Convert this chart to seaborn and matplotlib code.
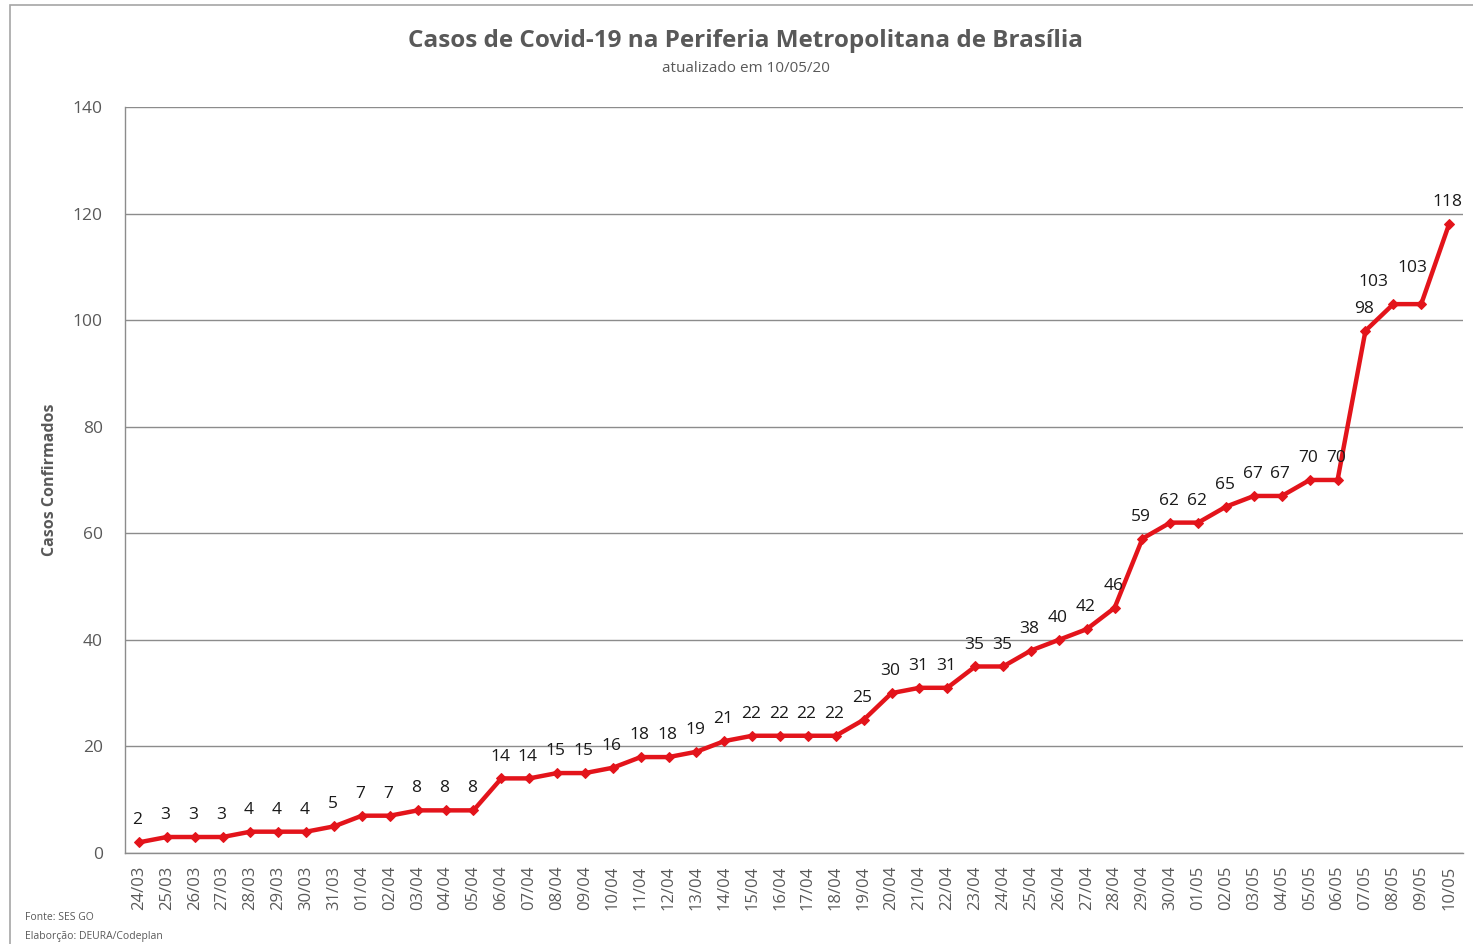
import matplotlib
matplotlib.use("Agg")
import matplotlib.pyplot as plt
import seaborn as sns
import pandas as pd
import numpy as np
from matplotlib.patches import Rectangle

dates = ["24/03", "25/03", "26/03", "27/03", "28/03", "29/03", "30/03", "31/03",
         "01/04", "02/04", "03/04", "04/04", "05/04", "06/04", "07/04", "08/04",
         "09/04", "10/04", "11/04", "12/04", "13/04", "14/04", "15/04", "16/04",
         "17/04", "18/04", "19/04", "20/04", "21/04", "22/04", "23/04", "24/04",
         "25/04", "26/04", "27/04", "28/04", "29/04", "30/04", "01/05", "02/05",
         "03/05", "04/05", "05/05", "06/05", "07/05", "08/05", "09/05", "10/05"]
casos = [2, 3, 3, 3, 4, 4, 4, 5, 7, 7, 8, 8, 8, 14, 14, 15, 15, 16, 18, 18, 19,
         21, 22, 22, 22, 22, 25, 30, 31, 31, 35, 35, 38, 40, 42, 46, 59, 62, 62,
         65, 67, 67, 70, 70, 98, 103, 103, 118]
yticks = [0, 20, 40, 60, 80, 100, 120, 140]

title = "Casos de Covid-19 na Periferia Metropolitana de Brasília"
subtitle = "atualizado em 10/05/20"
ylabel = "Casos Confirmados"

sns.set_theme(style="white")
plt.rcParams["font.family"] = ["Open Sans", "DejaVu Sans"]

grey = "#595959"
linegrey = "#8c8c8c"
red = "#E3141B"

df = pd.DataFrame({"idx": np.arange(len(dates)), "casos": casos})

fig = plt.figure(figsize=(14.73, 9.44), dpi=100)
ax = fig.add_axes([0.0849, 0.0964, 1463 / 1473 - 0.0849, 0.8867 - 0.0964])

sns.lineplot(data=df, x="idx", y="casos", ax=ax, color=red, linewidth=3.2,
             marker="D", markersize=5, markeredgecolor=red, markerfacecolor=red)

ax.set_xlim(-0.5, len(dates) - 0.5)
ax.set_ylim(0, 140)
ax.set_yticks(yticks)
ax.set_yticklabels([str(v) for v in yticks], color=grey, fontsize=12.5)
ax.yaxis.grid(True, color=linegrey, linewidth=1)
ax.xaxis.grid(False)
ax.set_xticks(np.arange(len(dates)))
ax.set_xticklabels(dates, rotation=90, color=grey, fontsize=12)
ax.set_xticks(np.arange(len(dates) + 1) - 0.5, minor=True)
ax.tick_params(axis="x", which="major", length=0, pad=9)
ax.tick_params(axis="x", which="minor", length=7, color=linegrey, direction="out", width=1)
ax.tick_params(axis="y", which="major", length=7, color=linegrey, direction="out", width=1, pad=9)
ax.set_xlabel("")
ax.set_ylabel(ylabel, color=grey, fontsize=11.5, fontweight="bold", labelpad=11)
for s in ["top", "right"]:
    ax.spines[s].set_visible(False)
for s in ["left", "bottom"]:
    ax.spines[s].set_color(linegrey)
    ax.spines[s].set_linewidth(1)

# data labels
offsets = {45: (-14, 10), 46: (-6, 20)}
for i, v in enumerate(casos):
    dx, dy = offsets.get(i, (-1, 10))
    ax.annotate(str(v), xy=(i, v), xytext=(dx, dy), textcoords="offset points",
                ha="center", va="bottom", fontsize=12.5, color="#1a1a1a")

fig.text(746 / 1473, 1 - 41 / 944, title, ha="center", va="center",
         fontsize=17.5, fontweight="bold", color=grey)
fig.text(746 / 1473, 1 - 69 / 944, subtitle, ha="center", va="center",
         fontsize=11, color=grey)
fig.text(25 / 1473, 1 - 918 / 944, "Fonte: SES GO", ha="left", va="center",
         fontsize=7.5, color=grey)
fig.text(25 / 1473, 1 - 937 / 944, "Elaborção: DEURA/Codeplan", ha="left", va="center",
         fontsize=7.5, color=grey)

fig.patches.append(Rectangle((10 / 1473, -0.01), 1.0, 1 - 5 / 944 + 0.01,
                             transform=fig.transFigure, fill=False,
                             edgecolor="#a6a6a6", linewidth=1.2))

fig.savefig("out.png", dpi=100, facecolor="white")
